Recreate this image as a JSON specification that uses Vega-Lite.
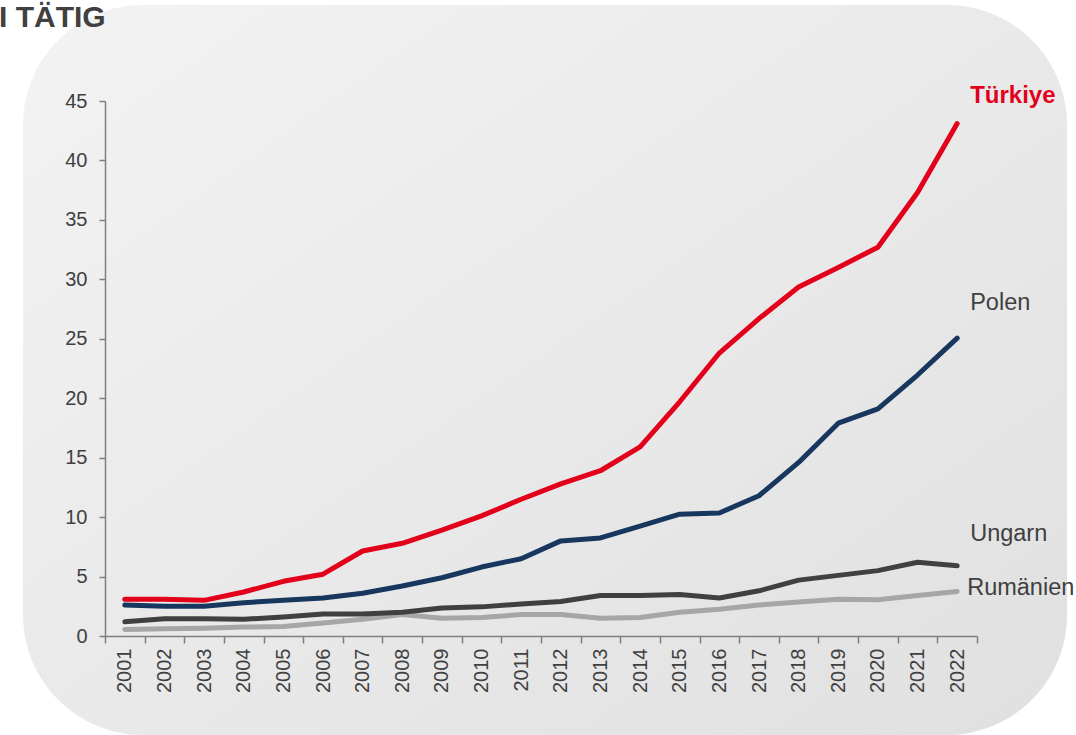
{
  "$schema": "https://vega.github.io/schema/vega-lite/v6.json",
  "width": 1044,
  "height": 730,
  "autosize": {"type": "none"},
  "padding": {"left": 23, "top": 5, "right": 9, "bottom": 0},
  "background": "white",
  "view": {
    "fill": {"gradient": "linear", "x1": 0, "y1": 0, "x2": 1, "y2": 1, "stops": [{"offset": 0, "color": "#f3f3f3"}, {"offset": 1, "color": "#e0e0e0"}]},
    "cornerRadius": 120,
    "stroke": null
  },
  "config": {"font": "Liberation Sans"},
  "title": {"text": "I TÄTIG", "anchor": "start", "frame": "group", "orient": "top", "offset": 0, "dx": -24, "dy": 28, "fontSize": 30, "fontWeight": "bold", "color": "#404040", "font": "Liberation Sans"},
  "data": {
    "values": [
      {"country": "Rumänien", "year": "2001", "value": 0.55},
      {"country": "Rumänien", "year": "2002", "value": 0.6},
      {"country": "Rumänien", "year": "2003", "value": 0.65},
      {"country": "Rumänien", "year": "2004", "value": 0.75},
      {"country": "Rumänien", "year": "2005", "value": 0.8},
      {"country": "Rumänien", "year": "2006", "value": 1.1},
      {"country": "Rumänien", "year": "2007", "value": 1.4},
      {"country": "Rumänien", "year": "2008", "value": 1.8},
      {"country": "Rumänien", "year": "2009", "value": 1.5},
      {"country": "Rumänien", "year": "2010", "value": 1.55},
      {"country": "Rumänien", "year": "2011", "value": 1.8},
      {"country": "Rumänien", "year": "2012", "value": 1.8},
      {"country": "Rumänien", "year": "2013", "value": 1.5},
      {"country": "Rumänien", "year": "2014", "value": 1.55},
      {"country": "Rumänien", "year": "2015", "value": 2.0},
      {"country": "Rumänien", "year": "2016", "value": 2.25},
      {"country": "Rumänien", "year": "2017", "value": 2.6},
      {"country": "Rumänien", "year": "2018", "value": 2.85},
      {"country": "Rumänien", "year": "2019", "value": 3.1},
      {"country": "Rumänien", "year": "2020", "value": 3.05},
      {"country": "Rumänien", "year": "2021", "value": 3.4},
      {"country": "Rumänien", "year": "2022", "value": 3.75},
      {"country": "Ungarn", "year": "2001", "value": 1.2},
      {"country": "Ungarn", "year": "2002", "value": 1.45},
      {"country": "Ungarn", "year": "2003", "value": 1.45},
      {"country": "Ungarn", "year": "2004", "value": 1.4},
      {"country": "Ungarn", "year": "2005", "value": 1.6},
      {"country": "Ungarn", "year": "2006", "value": 1.85},
      {"country": "Ungarn", "year": "2007", "value": 1.85},
      {"country": "Ungarn", "year": "2008", "value": 2.0},
      {"country": "Ungarn", "year": "2009", "value": 2.35},
      {"country": "Ungarn", "year": "2010", "value": 2.45},
      {"country": "Ungarn", "year": "2011", "value": 2.7},
      {"country": "Ungarn", "year": "2012", "value": 2.9},
      {"country": "Ungarn", "year": "2013", "value": 3.4},
      {"country": "Ungarn", "year": "2014", "value": 3.4},
      {"country": "Ungarn", "year": "2015", "value": 3.5},
      {"country": "Ungarn", "year": "2016", "value": 3.2},
      {"country": "Ungarn", "year": "2017", "value": 3.8},
      {"country": "Ungarn", "year": "2018", "value": 4.7},
      {"country": "Ungarn", "year": "2019", "value": 5.1},
      {"country": "Ungarn", "year": "2020", "value": 5.5},
      {"country": "Ungarn", "year": "2021", "value": 6.2},
      {"country": "Ungarn", "year": "2022", "value": 5.9},
      {"country": "Polen", "year": "2001", "value": 2.6},
      {"country": "Polen", "year": "2002", "value": 2.5},
      {"country": "Polen", "year": "2003", "value": 2.5},
      {"country": "Polen", "year": "2004", "value": 2.8},
      {"country": "Polen", "year": "2005", "value": 3.0},
      {"country": "Polen", "year": "2006", "value": 3.2},
      {"country": "Polen", "year": "2007", "value": 3.6},
      {"country": "Polen", "year": "2008", "value": 4.2},
      {"country": "Polen", "year": "2009", "value": 4.9},
      {"country": "Polen", "year": "2010", "value": 5.8},
      {"country": "Polen", "year": "2011", "value": 6.5},
      {"country": "Polen", "year": "2012", "value": 8.0},
      {"country": "Polen", "year": "2013", "value": 8.25},
      {"country": "Polen", "year": "2014", "value": 9.25},
      {"country": "Polen", "year": "2015", "value": 10.25},
      {"country": "Polen", "year": "2016", "value": 10.35},
      {"country": "Polen", "year": "2017", "value": 11.8},
      {"country": "Polen", "year": "2018", "value": 14.6},
      {"country": "Polen", "year": "2019", "value": 17.9},
      {"country": "Polen", "year": "2020", "value": 19.1},
      {"country": "Polen", "year": "2021", "value": 21.95},
      {"country": "Polen", "year": "2022", "value": 25.05},
      {"country": "Türkiye", "year": "2001", "value": 3.1},
      {"country": "Türkiye", "year": "2002", "value": 3.1},
      {"country": "Türkiye", "year": "2003", "value": 3.0},
      {"country": "Türkiye", "year": "2004", "value": 3.7},
      {"country": "Türkiye", "year": "2005", "value": 4.6},
      {"country": "Türkiye", "year": "2006", "value": 5.2},
      {"country": "Türkiye", "year": "2007", "value": 7.15},
      {"country": "Türkiye", "year": "2008", "value": 7.8},
      {"country": "Türkiye", "year": "2009", "value": 8.9},
      {"country": "Türkiye", "year": "2010", "value": 10.1},
      {"country": "Türkiye", "year": "2011", "value": 11.5},
      {"country": "Türkiye", "year": "2012", "value": 12.8},
      {"country": "Türkiye", "year": "2013", "value": 13.9},
      {"country": "Türkiye", "year": "2014", "value": 15.9},
      {"country": "Türkiye", "year": "2015", "value": 19.7},
      {"country": "Türkiye", "year": "2016", "value": 23.8},
      {"country": "Türkiye", "year": "2017", "value": 26.7},
      {"country": "Türkiye", "year": "2018", "value": 29.35},
      {"country": "Türkiye", "year": "2019", "value": 31.0},
      {"country": "Türkiye", "year": "2020", "value": 32.7},
      {"country": "Türkiye", "year": "2021", "value": 37.3},
      {"country": "Türkiye", "year": "2022", "value": 43.1}
    ]
  },
  "encoding": {
    "x": {
      "field": "year", "type": "ordinal",
      "scale": {"type": "band", "range": [82, 954], "paddingInner": 0, "paddingOuter": 0},
      "axis": {"title": null, "offset": -99, "tickBand": "extent", "labelAngle": 270, "labelAlign": "right", "labelBaseline": "middle", "labelPadding": 5, "tickSize": 7, "tickWidth": 1.5, "tickColor": "#7f7f7f", "domainColor": "#7f7f7f", "domainWidth": 1.5, "labelFontSize": 20, "labelColor": "#404040", "labelFont": "Liberation Sans", "grid": false}
    },
    "y": {
      "field": "value", "type": "quantitative",
      "scale": {"domain": [0, 45], "range": [631, 96], "nice": false, "zero": false},
      "axis": {"title": null, "offset": -82, "values": [0, 5, 10, 15, 20, 25, 30, 35, 40, 45], "tickSize": 6, "tickWidth": 1.5, "tickColor": "#7f7f7f", "domainColor": "#7f7f7f", "domainWidth": 1.5, "labelFontSize": 20, "labelColor": "#404040", "labelFont": "Liberation Sans", "labelPadding": 12, "grid": false}
    }
  },
  "layer": [
    {
      "mark": {"type": "line", "strokeWidth": 5, "strokeCap": "round", "strokeJoin": "round"},
      "encoding": {
        "color": {"field": "country", "type": "nominal", "scale": {"domain": ["Rumänien", "Ungarn", "Polen", "Türkiye"], "range": ["#a6a6a6", "#404040", "#17375e", "#e3001b"]}, "legend": null}
      }
    },
    {
      "transform": [{"filter": "datum.country == 'Türkiye' && datum.year == '2022'"}],
      "mark": {"type": "text", "align": "left", "baseline": "middle", "dx": 13, "dy": -28, "fontSize": 24, "fontWeight": "bold", "color": "#e3001b", "font": "Liberation Sans"},
      "encoding": {"text": {"field": "country"}}
    },
    {
      "transform": [{"filter": "datum.country == 'Polen' && datum.year == '2022'"}],
      "mark": {"type": "text", "align": "left", "baseline": "middle", "dx": 13, "dy": -35, "fontSize": 23.5, "color": "#404040", "font": "Liberation Sans"},
      "encoding": {"text": {"field": "country"}}
    },
    {
      "transform": [{"filter": "datum.country == 'Ungarn' && datum.year == '2022'"}],
      "mark": {"type": "text", "align": "left", "baseline": "middle", "dx": 13, "dy": -32, "fontSize": 23.5, "color": "#404040", "font": "Liberation Sans"},
      "encoding": {"text": {"field": "country"}}
    },
    {
      "transform": [{"filter": "datum.country == 'Rumänien' && datum.year == '2022'"}],
      "mark": {"type": "text", "align": "left", "baseline": "middle", "dx": 10, "dy": -3, "fontSize": 23.5, "color": "#404040", "font": "Liberation Sans"},
      "encoding": {"text": {"field": "country"}}
    }
  ]
}
